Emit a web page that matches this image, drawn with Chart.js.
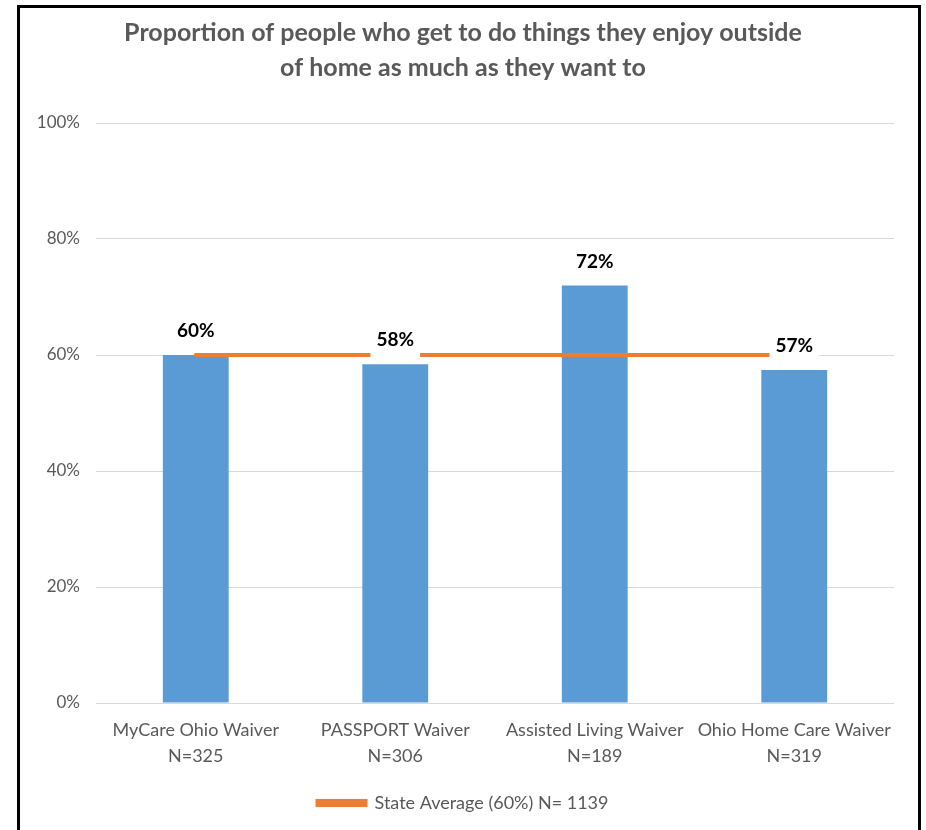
<!DOCTYPE html>
<html>
<head>
<meta charset="utf-8">
<script src="https://cdn.jsdelivr.net/npm/chart.js@4.4.1/dist/chart.umd.min.js"></script>
<style>
    html, body { margin: 0; padding: 0; background: #fff; overflow: hidden; }
    #wrap { position: relative; width: 926px; height: 830px; }
    #frame { position: absolute; left: 17px; top: 5px; width: 904px; height: 900px; border: 3px solid #000; box-sizing: border-box; pointer-events: none; }
    canvas { position: absolute; left: 0; top: 0; }
</style>
</head>
<body>
<div id="wrap">
    <canvas id="graficoWaiver" width="926" height="830"></canvas>
    <div id="frame"></div>
</div>
<script>
// dados
const programas = ['MyCare Ohio Waiver', 'PASSPORT Waiver', 'Assisted Living Waiver', 'Ohio Home Care Waiver']
const amostras = ['N=325', 'N=306', 'N=189', 'N=319']
const percentuais = [60, 58.4, 72, 57.4]
const mediaEstado = [60, 60, 60, 60]
const ticksY = [0, 20, 40, 60, 80, 100]
const legendaMedia = 'State Average (60%) N= 1139'

const cinza = '#595959'
const azul = '#5B9BD5'
const laranja = '#ED7D31'

/*
* Rotulos em cima das barras, com fundo branco (cobre a linha da media)
*/
const rotulosBarras = {
    id: 'rotulosBarras',
    afterDatasetsDraw(chart) {
        const ctx = chart.ctx
        const meta = chart.getDatasetMeta(0)
        ctx.save()
        ctx.font = 'bold 19px Lato'
        ctx.textAlign = 'center'
        ctx.textBaseline = 'middle'
        meta.data.forEach((barra, i) => {
            const texto = Math.round(percentuais[i]) + '%'
            const largura = ctx.measureText(texto).width + 12
            const cy = barra.y - 24
            ctx.fillStyle = '#fff'
            ctx.fillRect(barra.x - largura / 2, cy - 16, largura, 34)
            ctx.fillStyle = '#000'
            ctx.fillText(texto, barra.x, cy)
        })
        ctx.restore()
    }
}

const ctx = document.getElementById('graficoWaiver').getContext('2d')

const meuGrafico = new Chart(ctx, {
    type: 'bar',
    data: {
        labels: programas.map((p, i) => [p, amostras[i]]),
        datasets: [{
            label: 'Waiver',
            data: percentuais,
            backgroundColor: azul,
            barPercentage: 0.66,
            categoryPercentage: 0.5,
            order: 1
        }, {
            type: 'line',
            label: legendaMedia,
            data: mediaEstado,
            borderColor: laranja,
            backgroundColor: laranja,
            borderWidth: 4,
            borderCapStyle: 'round',
            pointRadius: 0,
            fill: false,
            order: 0
        }]
    },
    options: {
        responsive: false,
        animation: false,
        layout: {
            padding: { left: 32, right: 32, top: 0, bottom: 8 }
        },
        plugins: {
            title: {
                display: true,
                text: ['Proportion of people who get to do things they enjoy outside', 'of home as much as they want to'],
                color: cinza,
                font: { family: 'Lato', size: 25, weight: 'bold', lineHeight: '35px' },
                padding: { top: 15.5, bottom: 37.5 }
            },
            legend: {
                display: true,
                position: 'bottom',
                labels: {
                    filter: (item) => item.datasetIndex === 1,
                    boxWidth: 48,
                    boxHeight: 4,
                    padding: 25,
                    color: cinza,
                    font: { family: 'Lato', size: 18 }
                }
            },
            tooltip: { enabled: false }
        },
        scales: {
            x: {
                grid: { display: false, drawTicks: false },
                border: { display: false },
                ticks: {
                    color: cinza,
                    padding: 14,
                    maxRotation: 0,
                    font: { family: 'Lato', size: 18, lineHeight: '26px' }
                },
                afterFit: (escala) => { escala.height = 66 }
            },
            y: {
                min: 0,
                max: 100,
                afterBuildTicks: (escala) => { escala.ticks = ticksY.map(v => ({ value: v })) },
                grid: { color: '#D9D9D9', lineWidth: 1, drawTicks: false },
                border: { display: false },
                ticks: {
                    color: cinza,
                    padding: 16,
                    font: { family: 'Lato', size: 17 },
                    callback: (v) => v + '%'
                },
                afterFit: (escala) => { escala.width = 64 }
            }
        }
    },
    plugins: [rotulosBarras]
})
</script>
</body>
</html>
